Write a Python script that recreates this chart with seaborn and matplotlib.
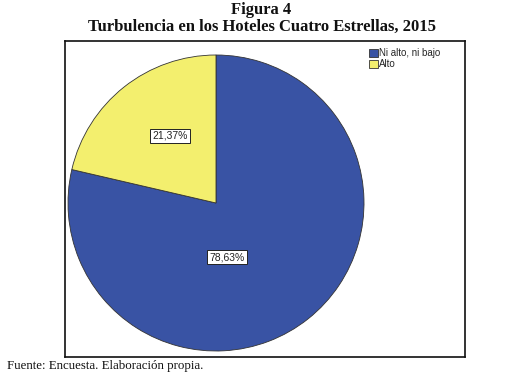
import matplotlib
matplotlib.use('Agg')
import matplotlib.pyplot as plt
import seaborn as sns

CATEGORIES = ['Ni alto, ni bajo', 'Alto']
PERCENTS = [78.63, 21.37]
COLOURS = ['#3953a4', '#f3ef6e']

sns.set_theme(style='white')
plt.rcParams['font.family'] = ['Liberation Sans', 'DejaVu Sans']

W, H = 523, 378
fig = plt.figure(figsize=(W / 100, H / 100), dpi=100)

# frame of the chart, in pixels of the picture
fx0, fy0, fx1, fy1 = 65, 41, 465, 357
ax = fig.add_axes([fx0 / W, 1 - fy1 / H, (fx1 - fx0) / W, (fy1 - fy0) / H])

# pie centre and radius in pixels
cx, cy, r = 216, 203, 148

wedges, texts, autotexts = ax.pie(
    PERCENTS, colors=COLOURS, startangle=90, counterclock=False,
    radius=r, center=(0, 0), autopct=lambda p: f'{p:.2f}%'.replace('.', ','),
    wedgeprops=dict(edgecolor='#333333', linewidth=0.6),
    textprops=dict(fontsize=7.5, color='#222222'),
)

# SPSS-style label positions (pixels relative to pie centre)
label_pos = [(11, -54), (-46, 67)]
for t, (dx, dy) in zip(autotexts, label_pos):
    t.set_position((dx, dy))
    t.set_bbox(dict(facecolor='white', edgecolor='#222222', linewidth=0.7, pad=1.5))

ax.set_aspect('auto')
ax.set_xlim(fx0 - cx, fx1 - cx)
ax.set_ylim(cy - fy1, cy - fy0)
ax.set_frame_on(True)
for s in ax.spines.values():
    s.set_visible(True)
    s.set_color('#111111')
    s.set_linewidth(1.2)

leg = ax.legend(
    wedges, CATEGORIES, loc='upper left',
    bbox_to_anchor=((366 - fx0) / (fx1 - fx0), 1 - 4 / (fy1 - fy0)),
    fontsize=7, frameon=False, handlelength=0.9, handleheight=0.9,
    handletextpad=0.1, borderpad=0.3, labelspacing=0.15, borderaxespad=0,
)

fig.text(0.5, 1 - 10 / H, 'Figura 4', ha='center', va='center',
         family='Liberation Serif', fontweight='bold', fontsize=12, color='#111111')
fig.text(0.5, 1 - 27 / H, 'Turbulencia en los Hoteles Cuatro Estrellas, 2015', ha='center',
         va='center', family='Liberation Serif', fontweight='bold', fontsize=12, color='#111111')
fig.text(7 / W, 1 - 366 / H, 'Fuente: Encuesta. Elaboración propia.', ha='left', va='center',
         family='Liberation Serif', fontsize=9.3, color='#111111')

fig.savefig('out.png', dpi=100, facecolor='white')
